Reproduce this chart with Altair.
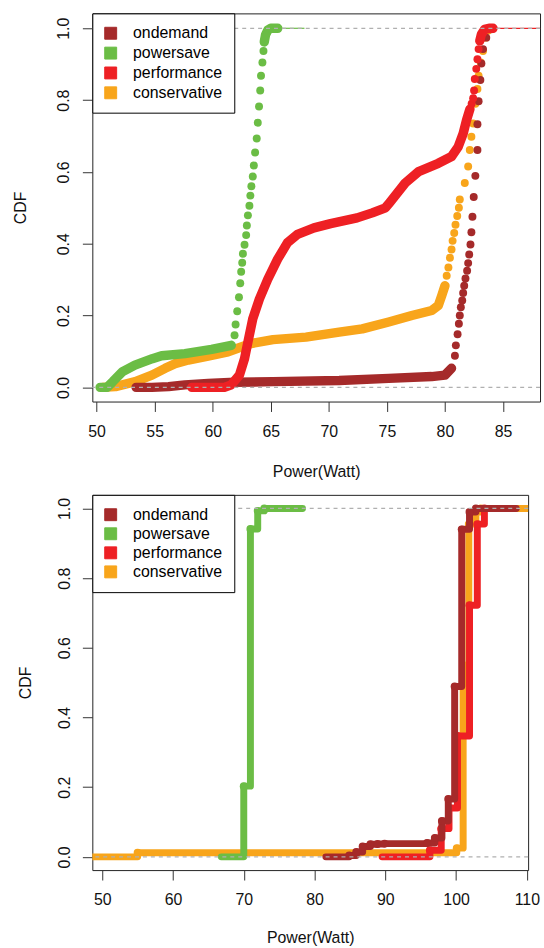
import altair as alt
import pandas as pd

# ---------------- categories / colours ----------------
series_names = ["ondemand", "powersave", "performance", "conservative"]
series_colors = ["#A52A2A", "#6BBD45", "#EE2024", "#F8A51B"]

# ---------------- top panel: ECDF drawn as dense points ----------------
# dense parts (points merge into a band)
top_ondemand_band_x = [53.4, 54.76, 56.2, 57.6, 59.6, 61.9, 65.19, 70.89, 75.16, 78.86, 80.0, 80.57]
top_ondemand_band_y = [0.0, 0.0, 0.002, 0.007, 0.011, 0.014, 0.016, 0.019, 0.025, 0.030, 0.034, 0.053]
top_ondemand_dots_x = [80.86, 80.94, 81.09, 81.2, 81.28, 81.37, 81.49, 81.57, 81.66, 81.77, 81.91, 82.0, 82.09,
                       82.2, 82.28, 82.37, 82.48, 82.62, 82.8, 82.8, 82.9, 83.05, 83.14, 83.28, 83.56, 83.99]
top_ondemand_dots_y = [0.088, 0.117, 0.148, 0.177, 0.2, 0.223, 0.242, 0.263, 0.283, 0.303, 0.325, 0.346, 0.370,
                       0.398, 0.432, 0.475, 0.530, 0.589, 0.661, 0.733, 0.797, 0.856, 0.902, 0.942, 0.974, 0.997]

top_powersave_band_x = [50.3, 50.9, 51.4, 52.2, 53.3, 54.8, 55.6, 57.6, 59.9, 61.6]
top_powersave_band_y = [0.0, 0.0, 0.016, 0.043, 0.062, 0.080, 0.088, 0.094, 0.106, 0.117]
top_powersave_top_x = [64.44, 64.55, 64.75, 65.0, 65.6]
top_powersave_top_y = [0.962, 0.982, 0.995, 1.0, 1.0]
top_powersave_dots_x = [61.88, 61.97, 62.11, 62.26, 62.37, 62.45, 62.54, 62.60, 62.74, 62.88, 62.94, 63.03, 63.16,
                        63.24, 63.33, 63.45, 63.54, 63.65, 63.79, 63.88, 63.99, 64.09, 64.16, 64.28, 64.37]
top_powersave_dots_y = [0.145, 0.175, 0.212, 0.251, 0.290, 0.322, 0.347, 0.372, 0.397, 0.424, 0.451, 0.479, 0.506,
                        0.534, 0.560, 0.587, 0.618, 0.654, 0.693, 0.737, 0.782, 0.827, 0.868, 0.905, 0.937]

top_performance_band_x = [58.2, 61.0, 61.6, 62.3, 62.74, 63.03, 63.45, 64.02, 64.74, 65.59, 66.44, 67.3, 68.72,
                          70.15, 72.43, 73.74, 74.87, 75.2, 76.58, 77.73, 79.43, 80.57, 81.14, 81.57, 81.86, 82.15]
top_performance_band_y = [0.0, 0.0, 0.007, 0.034, 0.080, 0.126, 0.191, 0.246, 0.301, 0.357, 0.403, 0.426, 0.444,
                          0.456, 0.472, 0.486, 0.500, 0.513, 0.569, 0.601, 0.624, 0.643, 0.670, 0.707, 0.744, 0.775]
top_performance_top_x = [83.0, 83.14, 83.42, 83.8, 84.14]
top_performance_top_y = [0.965, 0.983, 0.997, 1.0, 1.0]
top_performance_dots_x = [82.3, 82.43, 82.51, 82.57, 82.7, 82.8, 82.9]
top_performance_dots_y = [0.79, 0.805, 0.827, 0.859, 0.887, 0.914, 0.942]

top_conservative_band_x = [50.5, 51.62, 53.33, 54.76, 55.9, 56.75, 57.9, 59.6, 61.32, 63.3, 65.19, 68.03, 70.89,
                           72.88, 75.16, 77.15, 78.86, 79.43, 79.72, 80.0]
top_conservative_band_y = [0.0, 0.002, 0.016, 0.034, 0.053, 0.066, 0.076, 0.087, 0.099, 0.122, 0.133, 0.140, 0.154,
                           0.163, 0.182, 0.200, 0.214, 0.228, 0.255, 0.283]
top_conservative_dots_x = [80.15, 80.3, 80.43, 80.57, 80.66, 80.8, 80.91, 81.06, 81.2, 81.28, 81.71, 82.0, 82.14,
                           82.28, 82.43, 82.62, 82.8, 82.9, 83.08, 83.28, 83.48, 83.7]
top_conservative_dots_y = [0.311, 0.334, 0.361, 0.384, 0.408, 0.430, 0.453, 0.477, 0.500, 0.523, 0.569, 0.615, 0.661,
                           0.698, 0.735, 0.79, 0.831, 0.868, 0.905, 0.937, 0.974, 0.993]

# thin ECDF tails at CDF = 1
top_tail_series = ["powersave", "performance"]
top_tail_x1 = [65.6, 84.14]
top_tail_x2 = [67.9, 88.2]
top_tail_y = [1.0, 1.0]

top_x_ticks = [50, 55, 60, 65, 70, 75, 80, 85]

# ---------------- bottom panel: ECDF step functions ----------------
bot_ondemand_from, bot_ondemand_to = 81.6, 108.5
bot_ondemand_x = [84.9, 85.9, 86.8, 87.9, 88.9, 89.9, 95.9, 97.0, 98.0, 98.9, 99.8, 100.8, 101.9, 102.8]
bot_ondemand_y = [0.004, 0.014, 0.03, 0.036, 0.037, 0.038, 0.040, 0.054, 0.103, 0.166, 0.489, 0.94, 0.99, 1.0]

bot_powersave_from, bot_powersave_to = 66.83, 78.3
bot_powersave_x = [70.0, 70.94, 71.97, 72.9]
bot_powersave_y = [0.203, 0.941, 0.993, 1.0]

bot_performance_from, bot_performance_to = 89.55, 108.0
bot_performance_x = [96.3, 97.9, 99.0, 100.2, 101.9, 103.0, 104.0]
bot_performance_y = [0.019, 0.081, 0.14, 0.347, 0.722, 0.955, 1.0]

bot_conservative_from, bot_conservative_to = 48.6, 110.18
bot_conservative_x = [55.0, 100.1, 101.0, 101.8, 102.8, 103.5]
bot_conservative_y = [0.012, 0.025, 0.55, 0.955, 0.99, 1.0]

bot_x_ticks = [50, 60, 70, 80, 90, 100, 110]

y_ticks = [0.0, 0.2, 0.4, 0.6, 0.8, 1.0]
ref_levels = [0.0, 1.0]

FONT = "Liberation Sans"

# ---------------- helpers ----------------
color_scale = alt.Scale(domain=series_names, range=series_colors)


def make_legend(row_pad):
    return alt.Legend(orient="none", legendX=0, legendY=0, title=None,
                      symbolType="square", symbolSize=144, symbolStrokeColor="black",
                      symbolStrokeWidth=1, symbolOffset=-1.5, labelOffset=14.5,
                      labelFont=FONT, labelFontSize=16, labelColor="black", labelLimit=400,
                      padding=12, rowPadding=row_pad, strokeColor="black", fillColor="white")


def col(legend=None):
    return alt.Color("series:N", scale=color_scale, legend=legend)


def path_df(series, xs, ys, seg=0):
    return pd.DataFrame({"series": series, "seg": seg, "i": list(range(len(xs))), "x": xs, "y": ys})


def pts_df(series, xs, ys):
    return pd.DataFrame({"series": series, "x": xs, "y": ys})


# ---------------- top panel ----------------
x_top = alt.X("x:Q", scale=alt.Scale(domain=[49.63, 88.19], nice=False, zero=False),
              axis=alt.Axis(values=top_x_ticks, format="d", title="Power(Watt)",
                            labelBaseline="alphabetic", labelPadding=25, labelFlush=False,
                            labelOverlap=False, titleBaseline="alphabetic", titleY=75.5))
y_top = alt.Y("y:Q", scale=alt.Scale(domain=[-0.0395, 1.0415], nice=False, zero=False),
              axis=alt.Axis(values=y_ticks, format=".1f", title="CDF", labelAngle=270,
                            labelAlign="center", labelBaseline="alphabetic", labelPadding=14,
                            titleAngle=270, titleBaseline="alphabetic", titleX=-67))

top_data = {
    "conservative": ([(top_conservative_band_x, top_conservative_band_y)],
                     (top_conservative_dots_x, top_conservative_dots_y)),
    "ondemand": ([(top_ondemand_band_x, top_ondemand_band_y)],
                 (top_ondemand_dots_x, top_ondemand_dots_y)),
    "powersave": ([(top_powersave_band_x, top_powersave_band_y), (top_powersave_top_x, top_powersave_top_y)],
                  (top_powersave_dots_x, top_powersave_dots_y)),
    "performance": ([(top_performance_band_x, top_performance_band_y),
                     (top_performance_top_x, top_performance_top_y)],
                    (top_performance_dots_x, top_performance_dots_y)),
}

top_layers = []
first = True
for s in ["conservative", "ondemand", "powersave", "performance"]:
    bands, dots = top_data[s]
    bdf = pd.concat([path_df(s, bx, by, k) for k, (bx, by) in enumerate(bands)], ignore_index=True)
    dot_layer = alt.Chart(pts_df(s, dots[0], dots[1])).mark_circle(size=64, opacity=1, clip=True).encode(
        x=x_top, y=y_top, color=col(make_legend(4) if first else None))
    band_layer = alt.Chart(bdf).mark_line(strokeWidth=9.5, strokeCap="round", strokeJoin="round",
                                          clip=True).encode(
        x=x_top, y=y_top, color=col(), detail="seg:N", order="i:Q")
    # the legend-bearing layer must come first
    top_layers += [dot_layer, band_layer] if first else [band_layer, dot_layer]
    first = False

tail_df = pd.DataFrame({"series": top_tail_series, "x": top_tail_x1, "x2": top_tail_x2, "y": top_tail_y})
top_layers.append(
    alt.Chart(tail_df).mark_rule(strokeWidth=1.2).encode(x=x_top, x2="x2:Q", y=y_top, color=col())
)
top_layers.append(
    alt.Chart(pd.DataFrame({"y": ref_levels})).mark_rule(color="#B0B0B0", strokeDash=[4, 4], strokeWidth=1.2)
    .encode(y=y_top)
)
top = alt.layer(*top_layers).properties(width=451, height=391)

# ---------------- bottom panel ----------------
x_bot = alt.X("x:Q", scale=alt.Scale(domain=[48.6, 110.18], nice=False, zero=False),
              axis=alt.Axis(values=bot_x_ticks, format="d", title="Power(Watt)",
                            labelBaseline="alphabetic", labelPadding=25, labelFlush=False,
                            labelOverlap=False, titleBaseline="alphabetic", titleY=73))
y_bot = alt.Y("y:Q", scale=alt.Scale(domain=[-0.038, 1.039], nice=False, zero=False),
              axis=alt.Axis(values=y_ticks, format=".1f", title="CDF", labelAngle=270,
                            labelAlign="center", labelBaseline="alphabetic", labelPadding=12.5,
                            titleAngle=270, titleBaseline="alphabetic", titleX=-62))

bot_data = {
    "conservative": (bot_conservative_from, bot_conservative_to, bot_conservative_x, bot_conservative_y),
    "performance": (bot_performance_from, bot_performance_to, bot_performance_x, bot_performance_y),
    "ondemand": (bot_ondemand_from, bot_ondemand_to, bot_ondemand_x, bot_ondemand_y),
    "powersave": (bot_powersave_from, bot_powersave_to, bot_powersave_x, bot_powersave_y),
}

bot_layers = []
first = True
for s in ["conservative", "performance", "ondemand", "powersave"]:
    x0, x1, kx, ky = bot_data[s]
    line_df = path_df(s, [x0] + kx + [x1], [0.0] + ky + [ky[-1]])
    line_layer = alt.Chart(line_df).mark_line(interpolate="step-after", strokeWidth=7, strokeCap="round",
                                              strokeJoin="round", clip=True).encode(
        x=x_bot, y=y_bot, color=col(), order="i:Q")
    dot_layer = alt.Chart(pts_df(s, kx, ky)).mark_circle(size=64, opacity=1, clip=True).encode(
        x=x_bot, y=y_bot, color=col(make_legend(3.2) if first else None))
    bot_layers += [dot_layer, line_layer] if first else [line_layer, dot_layer]
    first = False

bot_layers.append(
    alt.Chart(pd.DataFrame({"y": ref_levels})).mark_rule(color="#B0B0B0", strokeDash=[4, 4], strokeWidth=1.2)
    .encode(y=y_bot)
)
bottom = alt.layer(*bot_layers).properties(width=439, height=378)

chart = (
    alt.vconcat(top, bottom, spacing=94, bounds="flush")
    .resolve_scale(color="independent", x="independent", y="independent")
    .resolve_legend(color="independent")
    .properties(padding={"left": 12, "top": 9, "right": 2, "bottom": 0}, background="white")
    .configure_view(stroke="#222222", strokeWidth=1)
    .configure_axis(labelFont=FONT, titleFont=FONT, labelFontSize=16, titleFontSize=16,
                    titleFontWeight="normal", labelColor="#111111", titleColor="#111111",
                    tickColor="#333333", tickSize=10, tickWidth=1, domain=False, grid=False)
)

chart.save("out.html", embed_options={"renderer": "svg", "actions": False})
